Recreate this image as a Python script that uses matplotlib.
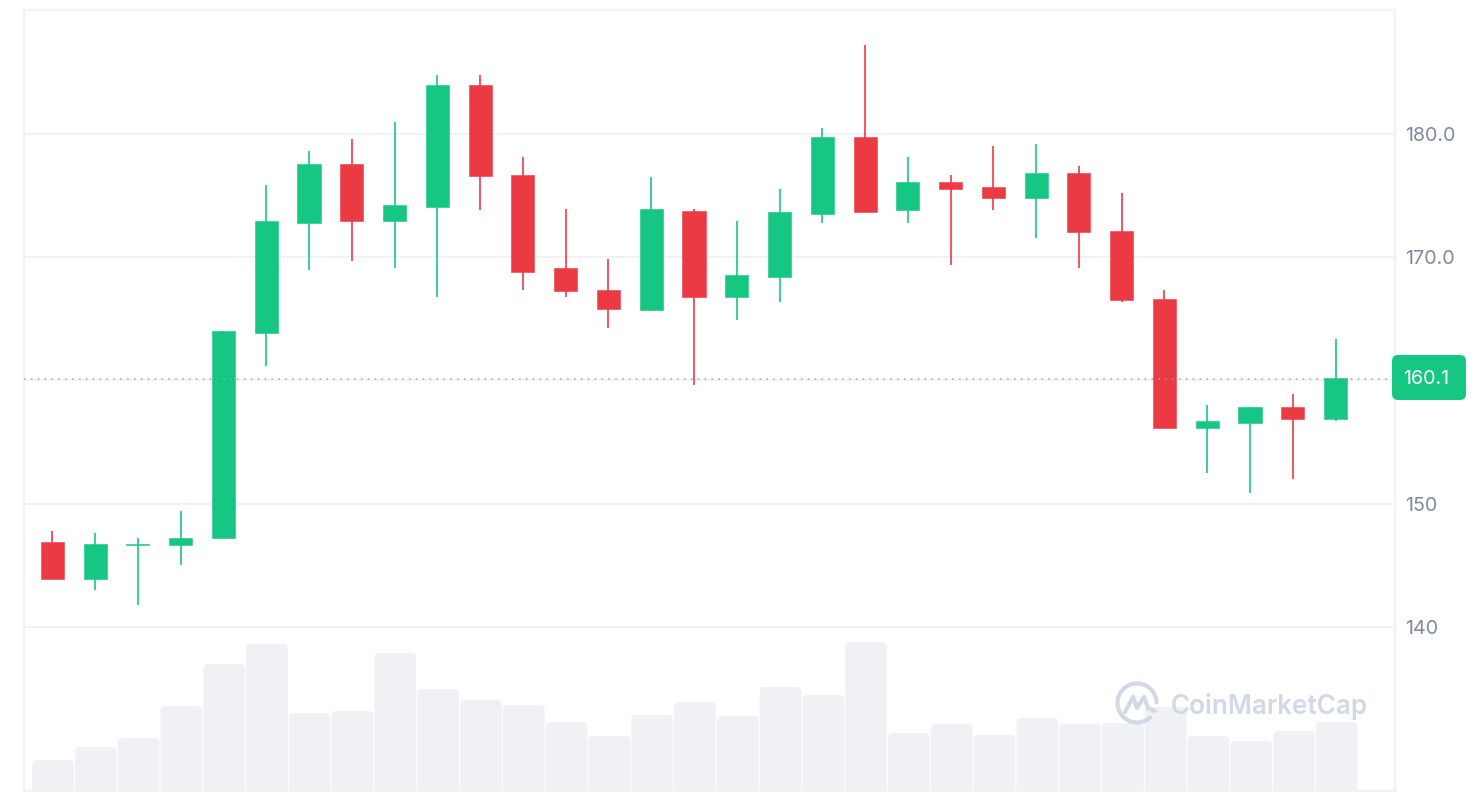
import numpy as np
import matplotlib
matplotlib.use("Agg")
import matplotlib.pyplot as plt
from matplotlib.patches import FancyBboxPatch

# price candles
opens = [146.88, 143.88, 146.64, 146.64, 147.21, 163.85, 172.78, 177.56, 172.94, 174.07, 183.98,
         176.67, 169.12, 167.34, 165.71, 173.75, 166.77, 168.39, 173.51, 179.76, 173.83,
         176.10, 175.70, 174.81, 176.83, 172.13, 166.61, 156.14, 156.54, 157.84, 156.87]
closes = [143.88, 146.72, 146.72, 147.21, 164.01, 172.94, 177.56, 172.94, 174.24, 183.98, 176.59,
          168.80, 167.26, 165.80, 173.91, 166.77, 168.56, 173.67, 179.76, 173.67, 176.10,
          175.54, 174.81, 176.83, 172.05, 166.53, 156.14, 156.70, 157.84, 156.87, 160.20]
highs = [147.78, 147.61, 147.21, 149.40, 164.01, 175.86, 178.62, 179.59, 180.97, 184.79, 184.79,
         178.13, 173.91, 169.85, 176.51, 173.91, 172.94, 175.54, 180.49, 187.22, 178.13,
         176.67, 179.03, 179.19, 177.40, 175.21, 167.34, 158.00, 157.84, 158.90, 163.36]
lows = [143.88, 142.99, 141.77, 145.02, 147.21, 161.17, 168.96, 169.69, 169.12, 166.77, 173.83,
        167.34, 166.77, 164.25, 165.63, 159.63, 164.90, 166.36, 172.78, 173.67, 172.78,
        169.37, 173.83, 171.56, 169.12, 166.36, 156.14, 152.48, 150.86, 152.00, 156.70]

# volume has no scale in the picture, so these are relative heights
volumes = [31, 44, 53, 85, 127, 147, 78, 80, 138, 102, 91, 86, 69, 55, 76, 89, 75, 104, 96, 149,
           58, 67, 56, 73, 67, 68, 84, 55, 50, 60, 69]

tick_values = [140, 150, 160, 170, 180]
tick_labels = ["140", "150", "", "170.0", "180.0"]
last_price = 160.1

GREEN = "#16c784"
RED = "#ec3a45"
GRID = "#f1f2f5"
VOL = "#f0f1f5"
TEXT = "#808a9d"
LOGO = "#d1d9e6"

W, H = 1482, 796
plt.rcParams["font.family"] = "Inter"

fig = plt.figure(figsize=(W / 100, H / 100), dpi=100, facecolor="white")
rect = [24 / W, 1 - 791 / H, (1395 - 24) / W, (791 - 10) / H]

# volume sits behind the candles on its own axes
ax_vol = fig.add_axes(rect, zorder=1)
ax_vol.set_xlim(-0.678, 31.36)
ax_vol.set_ylim(0, 781)
ax_vol.axis("off")
for i, v in enumerate(volumes):
    # y runs 1px per unit, x about 42.8px per unit
    ax_vol.add_patch(FancyBboxPatch((i - 0.487, -20), 0.974, v + 20,
                                    boxstyle="round,pad=0,rounding_size=0.11",
                                    mutation_aspect=42.8, fc=VOL, ec="none"))

ax = fig.add_axes(rect, zorder=2)
ax.patch.set_alpha(0)
ax.set_xlim(-0.664, 31.39)
ax.set_ylim(126.67, 190.06)
ax.set_yticks(tick_values)
ax.set_yticklabels(tick_labels)
ax.set_xticks([])
ax.yaxis.tick_right()
ax.tick_params(axis="y", length=0, pad=7.4, labelsize=14.2, labelcolor=TEXT)
ax.grid(axis="y", color=GRID, lw=1.4)
ax.set_axisbelow(True)
for s in ax.spines.values():
    s.set_color(GRID)
    s.set_linewidth(1.6)

for i in range(len(opens)):
    col = GREEN if closes[i] >= opens[i] else RED
    ax.vlines(i, lows[i], highs[i], color=col, lw=1.2, zorder=3)
    bottom = min(opens[i], closes[i])
    size = abs(closes[i] - opens[i])
    ax.bar(i, size, width=0.54, bottom=bottom, color=col, edgecolor=col, lw=0.4, zorder=3)

ax.axhline(last_price, color="#9aa0ac", lw=1.1, ls=(0, (1, 3.5)), zorder=4)

# pixel overlay for the price tag and the watermark
over = fig.add_axes([0, 0, 1, 1], zorder=3)
over.set_xlim(0, W)
over.set_ylim(H, 0)
over.axis("off")

over.add_patch(FancyBboxPatch((1392, 355), 74, 45, boxstyle="round,pad=0,rounding_size=6",
                              fc=GREEN, ec="none"))
over.text(1426.5, 378.5, f"{last_price:.1f}", color="white", fontsize=14.2, ha="center", va="center")

t = np.radians(np.linspace(48, 358, 80))
over.plot(1137 + 19.5 * np.cos(t), 703 + 19.5 * np.sin(t), color=LOGO, lw=3, solid_capstyle="round")
over.plot([1125, 1133, 1137, 1144, 1148, 1155], [712, 697, 708, 697, 708, 711],
          color=LOGO, lw=3, solid_joinstyle="round", solid_capstyle="round")
over.text(1171, 714, "CoinMarketCap", color=LOGO, fontsize=18.8, fontweight="semibold",
          ha="left", va="baseline")

fig.savefig("out.png", dpi=100)
